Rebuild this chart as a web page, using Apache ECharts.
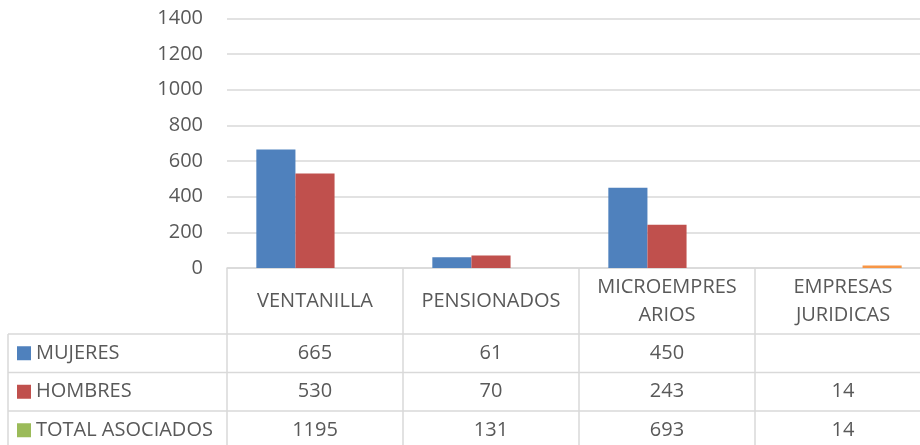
<!DOCTYPE html>
<html>
<head>
<meta charset="utf-8">
<script src="https://cdn.jsdelivr.net/npm/echarts@6/dist/echarts.min.js"></script>
<style>
html,body{margin:0;padding:0;overflow:hidden;background:#fff;}
#c{width:940px;height:445px;}
</style>
</head>
<body>
<div id="c"></div>
<script>
// ---- data ----
const categories = ['VENTANILLA', 'PENSIONADOS', 'MICROEMPRES\nARIOS', 'EMPRESAS\nJURIDICAS'];
const seriesNames = ['MUJERES', 'HOMBRES', 'TOTAL ASOCIADOS'];
const mujeres = [665, 61, 450, null];
const hombres = [530, 70, 243, 14];
const total = [1195, 131, 693, 14];
// which values are plotted as bars in the original chart
const hombresPlotted = [true, true, true, false];
const totalPlotted = [false, false, false, true];
const yMin = 0, yMax = 1400, yStep = 200;

// ---- layout / style ----
const FONT = 'Open Sans';
const TXT = '#595959';
const LINE = '#d9d9d9';
const gridLeft = 227, gridTop = 18.5, axisY = 268, plotRight = 931, W = 940, H = 445;
const rowH = 38.5, headerBottom = 334, legendLeft = 8;
const catW = (plotRight - gridLeft) / categories.length;

const colors = ['#4F81BD', '#C0504D', '#9BBB59'];
const totalBarColor = '#F79646';

function fmt(v) { return v == null ? '' : String(v); }

const rowsVals = [mujeres, hombres, total];

const xAxes = [{
  type: 'category', data: categories, gridIndex: 0, position: 'bottom',
  axisLine: { show: true, lineStyle: { color: LINE, width: 1.5 } },
  axisTick: { show: false },
  axisLabel: { interval: 0, margin: 33, verticalAlign: 'middle', color: TXT,
    fontFamily: FONT, fontSize: 20, lineHeight: 28, align: 'center' }
}];
rowsVals.forEach((arr, i) => {
  xAxes.push({
    type: 'category', data: arr.map(fmt), gridIndex: 0, position: 'bottom',
    offset: (headerBottom - axisY) + rowH * (i + 0.5),
    axisLine: { show: false }, axisTick: { show: false },
    axisLabel: { interval: 0, margin: 0, verticalAlign: 'middle', color: TXT,
      fontFamily: FONT, fontSize: 20 }
  });
});

// table lines
const graphics = [];
const gl = (x1, y1, x2, y2) => graphics.push({ type: 'line', silent: true,
  shape: { x1, y1, x2, y2 }, style: { stroke: LINE, lineWidth: 1.5 } });
for (let i = 0; i <= categories.length; i++) {
  gl(gridLeft + i * catW, axisY, gridLeft + i * catW, H + 10);
}
gl(legendLeft, headerBottom, legendLeft, H + 10);
for (let r = 0; r <= 3; r++) {
  const y = headerBottom + r * rowH;
  gl(legendLeft, y, plotRight, y);
}

// one legend per table row
const legends = seriesNames.map((n, i) => ({
  orient: 'horizontal', left: 17, top: headerBottom + rowH * (i + 0.5) - 12, padding: 0,
  itemWidth: 14, itemHeight: 14, icon: 'rect',
  textStyle: { color: TXT, fontFamily: FONT, fontSize: 20, lineHeight: 24 },
  data: [n]
}));

const chart = echarts.init(document.getElementById('c'), null, { renderer: 'canvas' });
chart.setOption({
  animation: false,
  textStyle: { fontFamily: FONT },
  grid: { left: gridLeft, top: gridTop, right: W - plotRight, bottom: H - axisY, containLabel: false },
  legend: legends,
  xAxis: xAxes,
  yAxis: {
    type: 'value', min: yMin, max: yMax, interval: yStep,
    axisLine: { show: false }, axisTick: { show: false },
    axisLabel: { color: TXT, fontFamily: FONT, fontSize: 20, margin: 24, formatter: v => String(v) },
    splitLine: { lineStyle: { color: LINE, width: 1.5 } }
  },
  series: [
    { name: seriesNames[0], type: 'bar', xAxisIndex: 0, barWidth: catW / 4.5, barGap: '0%',
      itemStyle: { color: colors[0] }, data: mujeres },
    { name: seriesNames[1], type: 'bar', xAxisIndex: 0, barWidth: catW / 4.5, barGap: '0%',
      itemStyle: { color: colors[1] },
      data: hombres.map((v, i) => hombresPlotted[i] ? v : { value: v, itemStyle: { opacity: 0 } }) },
    { name: seriesNames[2], type: 'bar', xAxisIndex: 0, barWidth: catW / 4.5, barGap: '0%',
      itemStyle: { color: colors[2] },
      data: total.map((v, i) => totalPlotted[i] ? { value: v, itemStyle: { color: totalBarColor } }
                                               : { value: v, itemStyle: { opacity: 0 } }) }
  ],
  graphic: graphics
});
</script>
</body>
</html>
